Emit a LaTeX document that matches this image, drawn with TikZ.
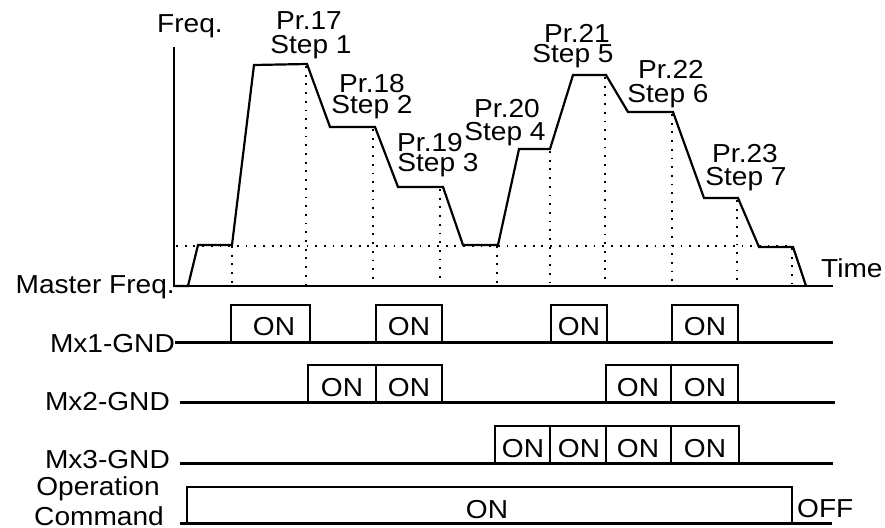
\documentclass[tikz,border=0pt]{standalone}
\usepackage{fontspec}
\setmainfont[FakeStretch=1.08]{Liberation Sans}
\begin{document}
\begin{tikzpicture}[x=1pt,y=-1pt,line join=miter,
  lbl/.style={anchor=base,inner sep=0pt,font=\fontsize{26}{30}\selectfont},
  curve/.style={line width=2.2pt},
  dots/.style={line width=1.8pt,dash pattern=on 1.8pt off 6.9pt},
  sig/.style={line width=3pt},
  pulse/.style={line width=2.2pt}]
\useasboundingbox (0,0) rectangle (885,527);
% axes
\draw[curve] (174,47) -- (174,286) -- (833,286);
% dotted guides
\draw[dots] (176,246) -- (793,246);
\foreach \x/\y in {232/246,306/66,373/129,440/189,497/246,550/151,605/77,672/114,737/200,792/248}
  \draw[dots] (\x,\y) -- (\x,284);
% frequency curve
\draw[curve] (174,286) -- (188,286) -- (198,245) -- (232,245) -- (254,65) -- (307,64)
  -- (330,127) -- (375,127) -- (398,187) -- (443,187) -- (463,245) -- (498,245)
  -- (519,149) -- (550,149) -- (573,75) -- (606,75) -- (628,112) -- (673,112)
  -- (704,198) -- (738,198) -- (759,247) -- (793,247) -- (806,286);
% labels upper
\node[lbl] (freq) at (190,33) {Freq.};
\node[lbl,anchor=base east] (mf) at (175,293) {Master Freq.};
\node[lbl,anchor=base west] (time) at (821,277) {Time};
\node[lbl] (p17) at (309,30) {Pr.17};
\node[lbl] (s1) at (311,54) {Step 1};
\node[lbl] (p18) at (372,92) {Pr.18};
\node[lbl] (s2) at (372,113) {Step 2};
\node[lbl] (p19) at (430,151) {Pr.19};
\node[lbl] (s3) at (438,171) {Step 3};
\node[lbl] (p20) at (507,117) {Pr.20};
\node[lbl] (s4) at (505,140) {Step 4};
\node[lbl] (p21) at (577,42) {Pr.21};
\node[lbl] (s5) at (573,63) {Step 5};
\node[lbl] (p22) at (671,78) {Pr.22};
\node[lbl] (s6) at (668,102) {Step 6};
\node[lbl] (p23) at (745,162) {Pr.23};
\node[lbl] (s7) at (746,185) {Step 7};
% Mx1
\node[lbl,anchor=base east] (m1) at (175,352) {Mx1-GND};
\draw[sig] (175,342) -- (833,342);
\foreach \a/\b in {231/310,376/442,551/607,672/738}
  \draw[pulse] (\a,342) |- (\b,305) -- (\b,342);
\foreach \x in {274,409,579,705}
  \node[lbl] at (\x,335) {ON};
% Mx2
\node[lbl,anchor=base east] (m2) at (170,410) {Mx2-GND};
\draw[sig] (180,402) -- (835,402);
\foreach \a/\b in {308/442,606/738}
  \draw[pulse] (\a,402) |- (\b,365) -- (\b,402);
\foreach \x in {376,671}
  \draw[pulse] (\x,365) -- (\x,402);
\foreach \x in {342,409,638,705}
  \node[lbl] at (\x,396) {ON};
% Mx3
\node[lbl,anchor=base east] (m3) at (170,468) {Mx3-GND};
\draw[sig] (180,463) -- (833,463);
\draw[pulse] (495,463) |- (739,426) -- (739,463);
\foreach \x in {550,606,671}
  \draw[pulse] (\x,426) -- (\x,463);
\foreach \x in {523,579,638,705}
  \node[lbl] at (\x,457) {ON};
% Operation
\node[lbl] (op) at (98,495) {Operation};
\node[lbl] (cmd) at (99,525) {Command};
\draw[sig] (180,523) -- (832,523);
\draw[pulse] (187,523) |- (792,487) -- (792,523);
\node[lbl] (on) at (487,518) {ON};
\node[lbl,anchor=base west] (off) at (797,517) {OFF};
\end{tikzpicture}
\end{document}
